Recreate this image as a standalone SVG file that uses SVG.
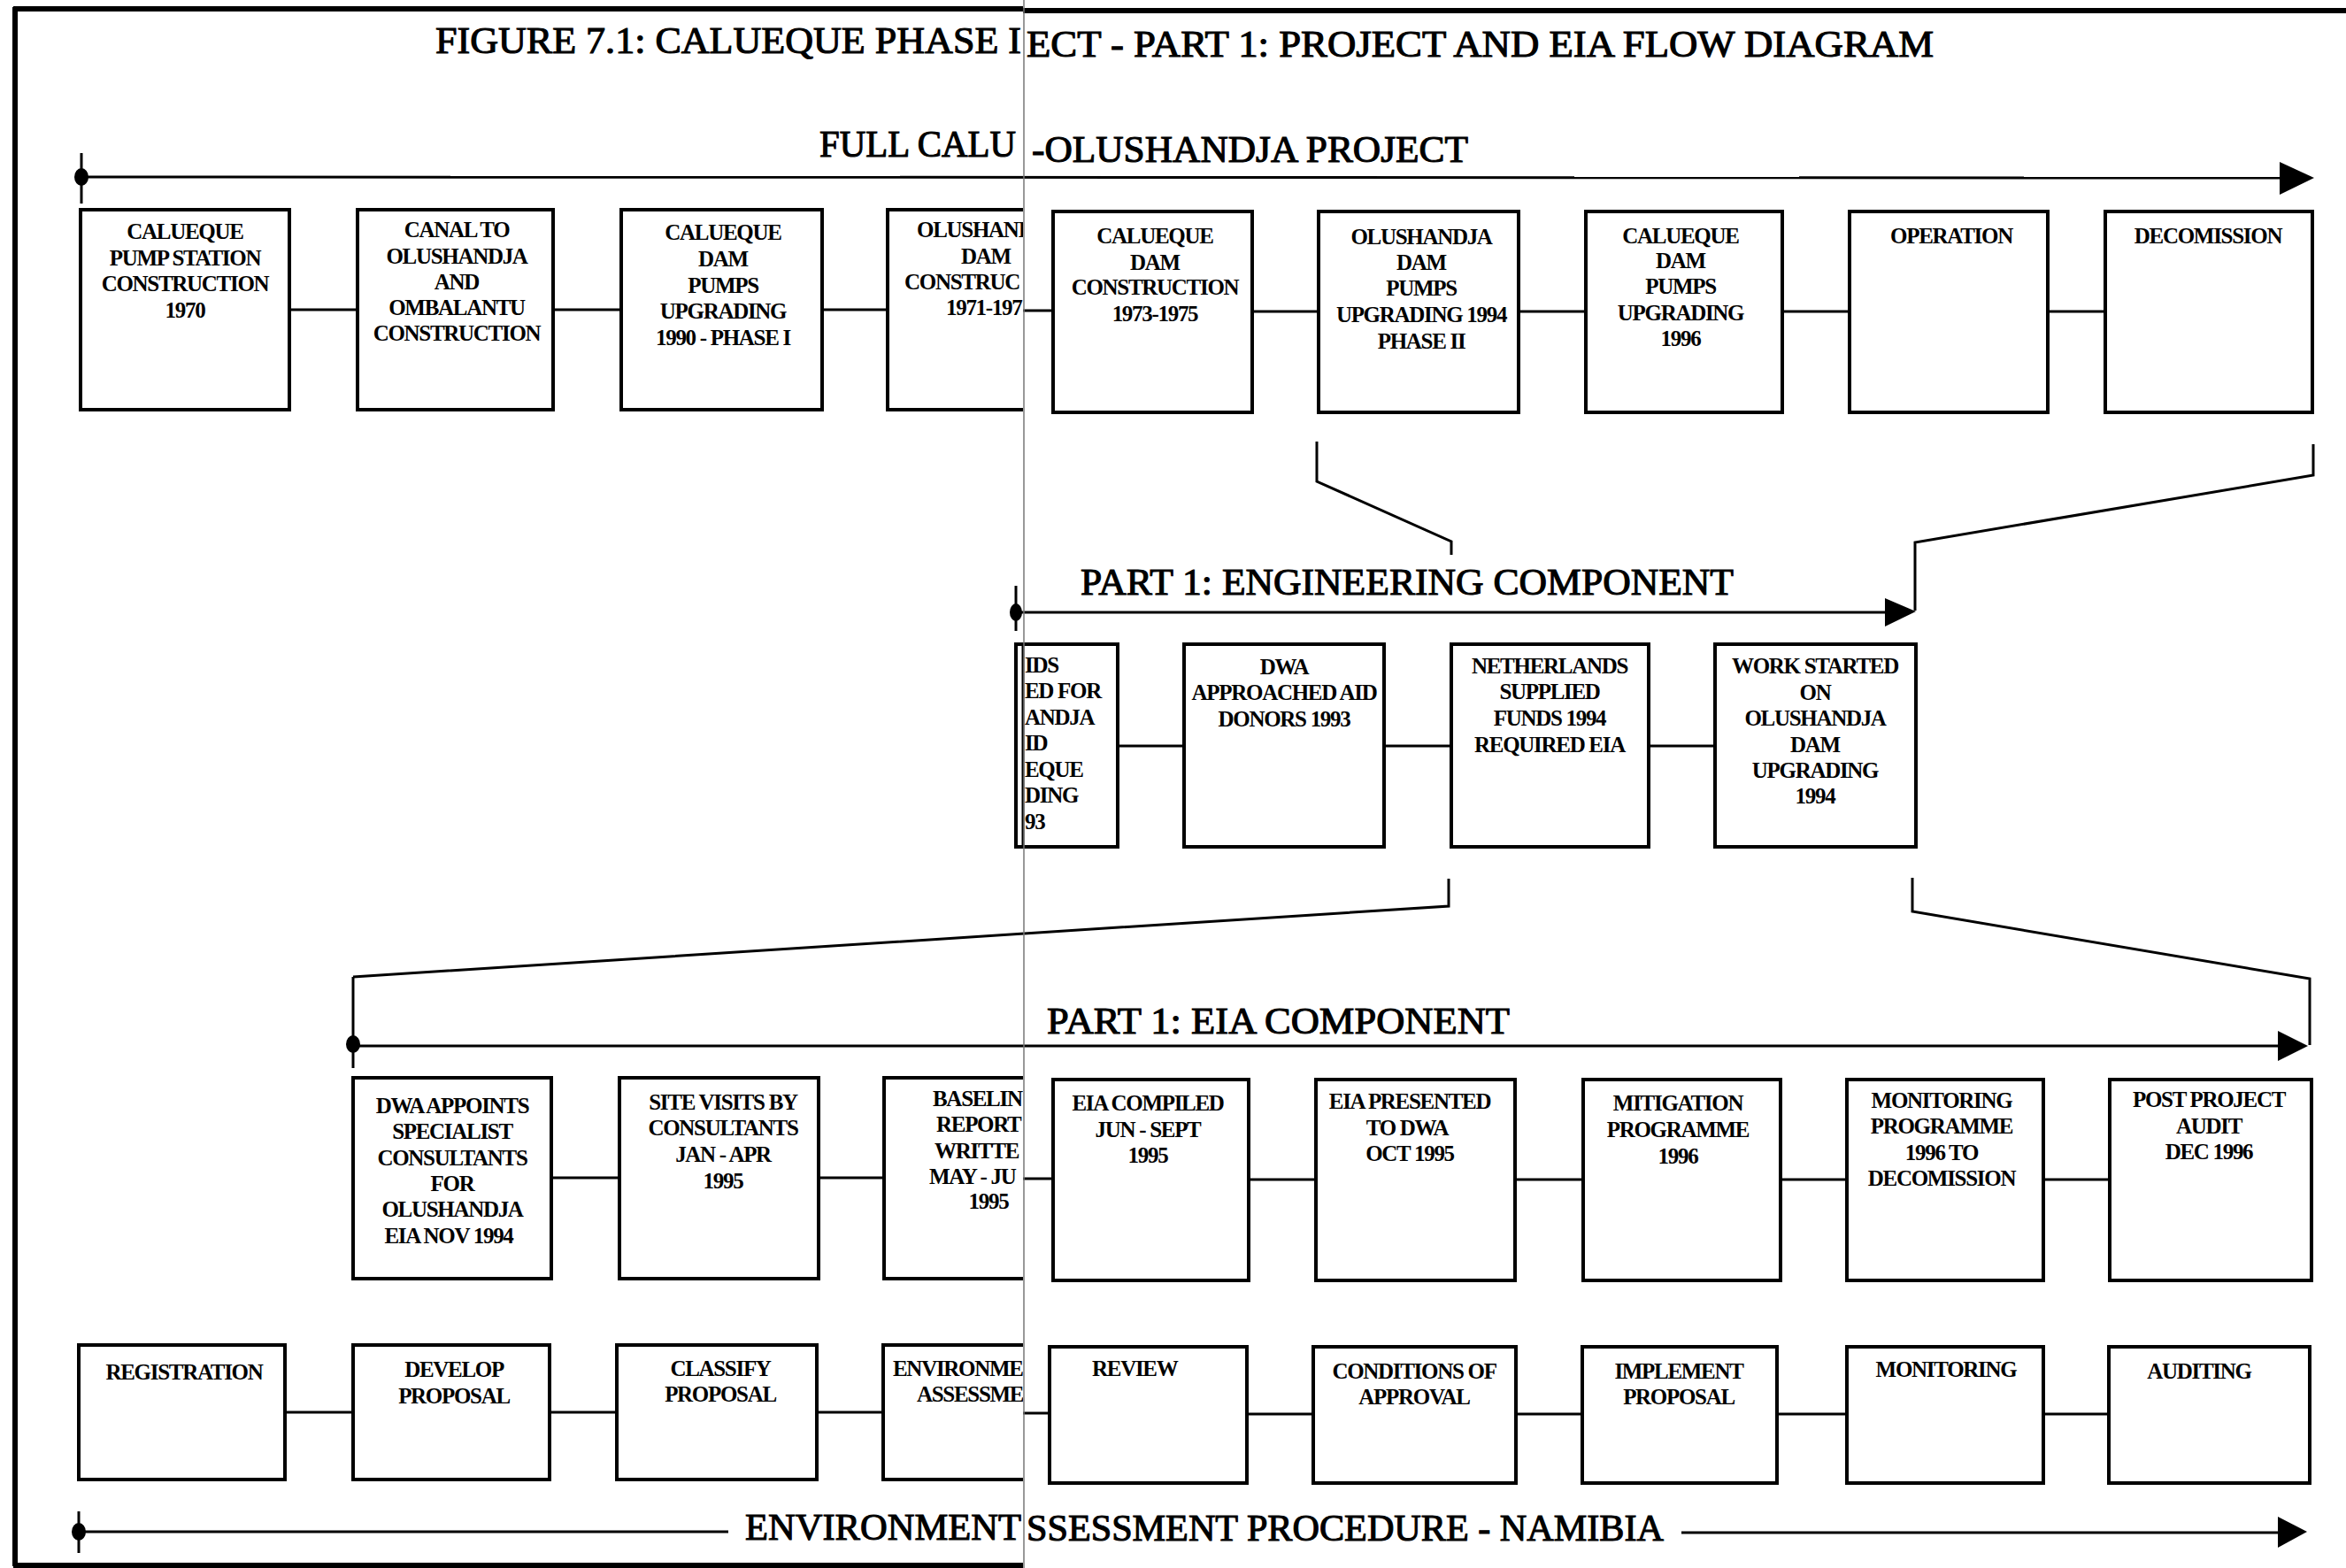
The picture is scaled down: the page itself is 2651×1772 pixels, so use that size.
<svg xmlns="http://www.w3.org/2000/svg" width="2651" height="1772" viewBox="0 0 2651 1772">
<style>
.box{fill:none;stroke:#000;stroke-width:4}
.ln{fill:none;stroke:#000;stroke-width:3}
.fr{fill:none;stroke:#000;stroke-width:6}
.bt{font-family:"Liberation Serif","Times New Roman",serif;font-weight:bold;font-size:25px;letter-spacing:-1.3px;text-anchor:middle;fill:#000}
.bs{font-family:"Liberation Serif","Times New Roman",serif;font-weight:bold;font-size:25px;letter-spacing:-1.3px;fill:#000}
.hd{font-family:"Liberation Serif","Times New Roman",serif;font-size:42px;fill:#000;stroke:#000;stroke-width:1.1}
</style>
<defs>
<clipPath id="leftpage"><rect x="0" y="0" width="1156" height="1772"/></clipPath>
</defs>
<rect width="2651" height="1772" fill="#fff"/>

<g id="frame">
<line class="fr" x1="17" y1="8" x2="17" y2="1770" stroke-width="5"/>
<line class="fr" x1="15" y1="10" x2="1156" y2="10"/>
<line class="fr" x1="1156" y1="12" x2="2651" y2="12"/>
<line class="fr" x1="15" y1="1769" x2="1156" y2="1769" stroke-width="4"/>
</g>

<g id="titles">
<text class="hd" x="492" y="60" font-size="43" textLength="662" lengthAdjust="spacingAndGlyphs">FIGURE 7.1: CALUEQUE PHASE I</text>
<text class="hd" x="1160" y="64" font-size="44" textLength="1025" lengthAdjust="spacingAndGlyphs">ECT - PART 1: PROJECT AND EIA FLOW DIAGRAM</text>
<text class="hd" x="926" y="177" font-size="41" textLength="222" lengthAdjust="spacingAndGlyphs">FULL CALU</text>
<text class="hd" x="1166" y="183" font-size="42" textLength="493" lengthAdjust="spacingAndGlyphs">-OLUSHANDJA PROJECT</text>
<text class="hd" x="1221" y="672" font-size="41" textLength="738" lengthAdjust="spacingAndGlyphs">PART 1: ENGINEERING COMPONENT</text>
<text class="hd" x="1183" y="1168" font-size="44" textLength="523" lengthAdjust="spacingAndGlyphs">PART 1: EIA COMPONENT</text>
<text class="hd" x="842" y="1740" font-size="41" textLength="312" lengthAdjust="spacingAndGlyphs">ENVIRONMENT</text>
<text class="hd" x="1160" y="1741" font-size="41" textLength="720" lengthAdjust="spacingAndGlyphs">SSESSMENT PROCEDURE - NAMIBIA</text>
</g>

<g id="connectors">
<line class="ln" x1="92" y1="200" x2="2580" y2="201"/>
<line class="ln" x1="92" y1="173" x2="92" y2="230"/>
<ellipse cx="92" cy="200" rx="8" ry="10"/>
<polygon points="2576,183 2615,201 2576,220"/>
<line class="ln" x1="1148" y1="692" x2="2134" y2="692"/>
<line class="ln" x1="1148" y1="662" x2="1148" y2="713"/>
<ellipse cx="1148" cy="692" rx="7" ry="10"/>
<polygon points="2130,676 2165,691 2130,708"/>
<line class="ln" x1="399" y1="1182" x2="2578" y2="1182"/>
<line class="ln" x1="399" y1="1104" x2="399" y2="1207"/>
<ellipse cx="399" cy="1180" rx="8" ry="10"/>
<polygon points="2574,1165 2608,1182 2574,1199"/>
<line class="ln" x1="89" y1="1731" x2="823" y2="1731"/>
<line class="ln" x1="1900" y1="1732" x2="2578" y2="1732"/>
<line class="ln" x1="89" y1="1708" x2="89" y2="1755"/>
<ellipse cx="89" cy="1731" rx="8" ry="10"/>
<polygon points="2574,1714 2607,1731 2574,1749"/>
<polyline class="ln" stroke-width="2.5" points="1488,499 1488,544 1640,612 1640,627"/>
<polyline class="ln" stroke-width="2.5" points="2614,502 2614,537 2164,613 2164,690"/>
<polyline class="ln" stroke-width="2.5" points="1637,993 1637,1024 399,1104"/>
<polyline class="ln" stroke-width="2.5" points="2161,992 2161,1030 2610,1106 2610,1181"/>
<g class="ln">
<line x1="327" y1="350" x2="404" y2="350"/>
<line x1="625" y1="350" x2="702" y2="350"/>
<line x1="929" y1="350" x2="1003" y2="350"/>
<line x1="1156" y1="351" x2="1190" y2="351"/>
<line x1="1415" y1="352" x2="1490" y2="352"/>
<line x1="1716" y1="352" x2="1792" y2="352"/>
<line x1="2014" y1="352" x2="2090" y2="352"/>
<line x1="2314" y1="352" x2="2379" y2="352"/>
<line x1="1263" y1="843" x2="1338" y2="843"/>
<line x1="1564" y1="843" x2="1640" y2="843"/>
<line x1="1863" y1="843" x2="1938" y2="843"/>
<line x1="623" y1="1331" x2="700" y2="1331"/>
<line x1="925" y1="1331" x2="999" y2="1331"/>
<line x1="1156" y1="1332" x2="1190" y2="1332"/>
<line x1="1411" y1="1333" x2="1487" y2="1333"/>
<line x1="1712" y1="1333" x2="1789" y2="1333"/>
<line x1="2012" y1="1333" x2="2087" y2="1333"/>
<line x1="2309" y1="1333" x2="2384" y2="1333"/>
<line x1="322" y1="1596" x2="399" y2="1596"/>
<line x1="621" y1="1596" x2="697" y2="1596"/>
<line x1="923" y1="1596" x2="998" y2="1596"/>
<line x1="1156" y1="1597" x2="1186" y2="1597"/>
<line x1="1409" y1="1598" x2="1484" y2="1598"/>
<line x1="1713" y1="1598" x2="1788" y2="1598"/>
<line x1="2008" y1="1598" x2="2087" y2="1598"/>
<line x1="2309" y1="1598" x2="2383" y2="1598"/>
</g>
</g>

<g id="p1"><rect class="box" x="91" y="237" width="236" height="226"/>
<text class="bt"><tspan x="209" y="270">CALUEQUE</tspan><tspan x="209" y="300">PUMP STATION</tspan><tspan x="209" y="329">CONSTRUCTION</tspan><tspan x="209" y="359">1970</tspan></text></g>
<g id="p2"><rect class="box" x="404" y="237" width="221" height="226"/>
<text class="bt"><tspan x="516" y="268">CANAL TO</tspan><tspan x="516" y="298">OLUSHANDJA</tspan><tspan x="516" y="327">AND</tspan><tspan x="516" y="356">OMBALANTU</tspan><tspan x="516" y="385">CONSTRUCTION</tspan></text></g>
<g id="p3"><rect class="box" x="702" y="237" width="227" height="226"/>
<text class="bt"><tspan x="817" y="271">CALUEQUE</tspan><tspan x="817" y="301">DAM</tspan><tspan x="817" y="331">PUMPS</tspan><tspan x="817" y="360">UPGRADING</tspan><tspan x="817" y="390">1990 - PHASE I</tspan></text></g>
<g id="p4" clip-path="url(#leftpage)"><rect class="box" x="1003" y="237" width="230" height="226"/>
<text class="bs" x="1036" y="268">OLUSHANI</text>
<text class="bt" x="1114" y="298">DAM</text>
<text class="bs" x="1022" y="327">CONSTRUC</text>
<text class="bs" x="1069" y="356">1971-197</text></g>
<g id="p5"><rect class="box" x="1190" y="239" width="225" height="227"/>
<text class="bt"><tspan x="1305" y="275">CALUEQUE</tspan><tspan x="1305" y="305">DAM</tspan><tspan x="1305" y="333">CONSTRUCTION</tspan><tspan x="1305" y="363">1973-1975</tspan></text></g>
<g id="p6"><rect class="box" x="1490" y="239" width="226" height="227"/>
<text class="bt"><tspan x="1606" y="276">OLUSHANDJA</tspan><tspan x="1606" y="305">DAM</tspan><tspan x="1606" y="334">PUMPS</tspan><tspan x="1606" y="364">UPGRADING 1994</tspan><tspan x="1606" y="394">PHASE II</tspan></text></g>
<g id="p7"><rect class="box" x="1792" y="239" width="222" height="227"/>
<text class="bt"><tspan x="1899" y="275">CALUEQUE</tspan><tspan x="1899" y="303">DAM</tspan><tspan x="1899" y="332">PUMPS</tspan><tspan x="1899" y="362">UPGRADING</tspan><tspan x="1899" y="391">1996</tspan></text></g>
<g id="p8"><rect class="box" x="2090" y="239" width="224" height="227"/>
<text class="bt" x="2205" y="275">OPERATION</text></g>
<g id="p9"><rect class="box" x="2379" y="239" width="234" height="227"/>
<text class="bt" x="2495" y="275">DECOMISSION</text></g>

<g id="e1"><rect class="box" x="1148" y="728" width="115" height="229"/>
<line class="ln" x1="1156" y1="728" x2="1156" y2="957"/>
<text class="bs"><tspan x="1158" y="760">IDS</tspan><tspan x="1158" y="789">ED FOR</tspan><tspan x="1158" y="819">ANDJA</tspan><tspan x="1158" y="848">ID</tspan><tspan x="1158" y="878">EQUE</tspan><tspan x="1158" y="907">DING</tspan><tspan x="1158" y="937">93</tspan></text></g>
<g id="e2"><rect class="box" x="1338" y="728" width="226" height="229"/>
<text class="bt"><tspan x="1451" y="762">DWA</tspan><tspan x="1451" y="791">APPROACHED AID</tspan><tspan x="1451" y="821">DONORS 1993</tspan></text></g>
<g id="e3"><rect class="box" x="1640" y="728" width="223" height="229"/>
<text class="bt"><tspan x="1751" y="761">NETHERLANDS</tspan><tspan x="1751" y="790">SUPPLIED</tspan><tspan x="1751" y="820">FUNDS 1994</tspan><tspan x="1751" y="850">REQUIRED EIA</tspan></text></g>
<g id="e4"><rect class="box" x="1938" y="728" width="227" height="229"/>
<text class="bt"><tspan x="2051" y="761">WORK STARTED</tspan><tspan x="2051" y="791">ON</tspan><tspan x="2051" y="820">OLUSHANDJA</tspan><tspan x="2051" y="850">DAM</tspan><tspan x="2051" y="879">UPGRADING</tspan><tspan x="2051" y="908">1994</tspan></text></g>

<g id="a1"><rect class="box" x="399" y="1218" width="224" height="227"/>
<text class="bt"><tspan x="511" y="1258">DWA APPOINTS</tspan><tspan x="511" y="1287">SPECIALIST</tspan><tspan x="511" y="1317">CONSULTANTS</tspan><tspan x="511" y="1346">FOR</tspan><tspan x="511" y="1375">OLUSHANDJA</tspan><tspan x="507" y="1405">EIA NOV 1994</tspan></text></g>
<g id="a2"><rect class="box" x="700" y="1218" width="225" height="227"/>
<text class="bt"><tspan x="817" y="1254">SITE VISITS BY</tspan><tspan x="817" y="1283">CONSULTANTS</tspan><tspan x="817" y="1313">JAN - APR</tspan><tspan x="817" y="1343">1995</tspan></text></g>
<g id="a3" clip-path="url(#leftpage)"><rect class="box" x="999" y="1218" width="230" height="227"/>
<text class="bs" x="1054" y="1250">BASELIN</text>
<text class="bs" x="1058" y="1279">REPORT</text>
<text class="bs" x="1056" y="1309">WRITTE</text>
<text class="bs" x="1050" y="1338">MAY - JU</text>
<text class="bt" x="1117" y="1366">1995</text></g>
<g id="a4"><rect class="box" x="1190" y="1220" width="221" height="227"/>
<text class="bt"><tspan x="1297" y="1255">EIA COMPILED</tspan><tspan x="1297" y="1285">JUN - SEPT</tspan><tspan x="1297" y="1314">1995</tspan></text></g>
<g id="a5"><rect class="box" x="1487" y="1220" width="225" height="227"/>
<text class="bt"><tspan x="1593" y="1253">EIA PRESENTED</tspan><tspan x="1590" y="1283">TO DWA</tspan><tspan x="1593" y="1312">OCT 1995</tspan></text></g>
<g id="a6"><rect class="box" x="1789" y="1220" width="223" height="227"/>
<text class="bt"><tspan x="1896" y="1255">MITIGATION</tspan><tspan x="1896" y="1285">PROGRAMME</tspan><tspan x="1896" y="1315">1996</tspan></text></g>
<g id="a7"><rect class="box" x="2087" y="1220" width="222" height="227"/>
<text class="bt"><tspan x="2194" y="1252">MONITORING</tspan><tspan x="2194" y="1281">PROGRAMME</tspan><tspan x="2194" y="1311">1996 TO</tspan><tspan x="2194" y="1340">DECOMISSION</tspan></text></g>
<g id="a8"><rect class="box" x="2384" y="1220" width="228" height="227"/>
<text class="bt"><tspan x="2496" y="1251">POST PROJECT</tspan><tspan x="2496" y="1281">AUDIT</tspan><tspan x="2496" y="1310">DEC 1996</tspan></text></g>

<g id="r1"><rect class="box" x="89" y="1520" width="233" height="152"/>
<text class="bt" x="208" y="1559">REGISTRATION</text></g>
<g id="r2"><rect class="box" x="399" y="1520" width="222" height="152"/>
<text class="bt"><tspan x="513" y="1556">DEVELOP</tspan><tspan x="513" y="1586">PROPOSAL</tspan></text></g>
<g id="r3"><rect class="box" x="697" y="1520" width="226" height="152"/>
<text class="bt"><tspan x="814" y="1555">CLASSIFY</tspan><tspan x="814" y="1584">PROPOSAL</tspan></text></g>
<g id="r4" clip-path="url(#leftpage)"><rect class="box" x="998" y="1520" width="230" height="152"/>
<text class="bs" x="1009" y="1555">ENVIRONME</text>
<text class="bs" x="1036" y="1584">ASSESSME</text></g>
<g id="r5"><rect class="box" x="1186" y="1522" width="223" height="154"/>
<text class="bs" x="1234" y="1555">REVIEW</text></g>
<g id="r6"><rect class="box" x="1484" y="1522" width="229" height="154"/>
<text class="bt"><tspan x="1598" y="1558">CONDITIONS OF</tspan><tspan x="1598" y="1587">APPROVAL</tspan></text></g>
<g id="r7"><rect class="box" x="1788" y="1522" width="220" height="154"/>
<text class="bt"><tspan x="1897" y="1558">IMPLEMENT</tspan><tspan x="1897" y="1587">PROPOSAL</tspan></text></g>
<g id="r8"><rect class="box" x="2087" y="1522" width="222" height="154"/>
<text class="bt" x="2199" y="1556">MONITORING</text></g>
<g id="r9"><rect class="box" x="2383" y="1522" width="227" height="154"/>
<text class="bt" x="2485" y="1558">AUDITING</text></g>

<g id="splice">
<line x1="1157" y1="0" x2="1157" y2="1772" stroke="#777" stroke-width="1.5"/>
</g>
</svg>
